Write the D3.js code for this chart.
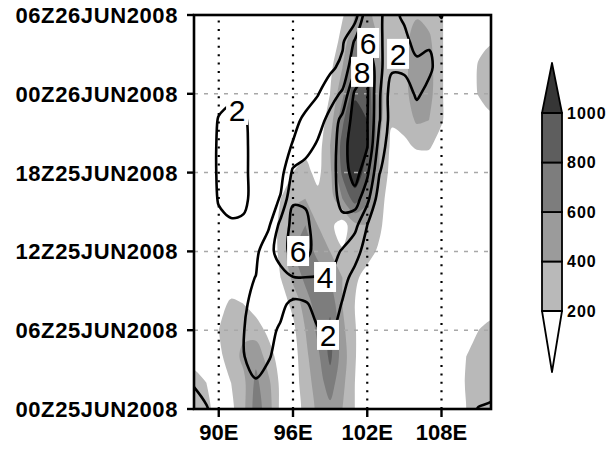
<!DOCTYPE html>
<html>
<head>
<meta charset="utf-8">
<script src="https://cdn.jsdelivr.net/npm/d3@7/dist/d3.min.js"></script>
<style>
  body { margin: 0; background: #fff; }
  text { font-family: "Liberation Sans", Arial, Helvetica, sans-serif; }
</style>
</head>
<body>
<svg id="chart" width="612" height="450"></svg>
<script>
// Grid coordinates of the two fields (longitude in degrees E, hours after 00Z25JUN2008)
const lons  = [87,88,89,90,91,92,93,94,95,96,97,98,99,100,101,102,103,104,105,106,107,108,109,110,111,112,113];
const hours = [-2,0,2,4,6,8,10,12,14,16,18,20,22,24,26,28,30,32];

// Shaded field (rows follow `hours`, columns follow `lons`)
const shadeField = [
  [350,330,240,100,150,350,700,500,150,100,250,450,500,350,180,0,0,0,0,0,0,0,50,220,300,320,330],
  [350,320,260,100,150,350,700,500,150,100,250,450,550,400,200,0,0,0,0,0,0,0,50,200,300,320,330],
  [300,280,200,100,200,350,650,450,150,100,300,500,700,450,200,0,0,0,0,0,0,0,50,220,300,320,320],
  [150,120,80,150,300,450,550,300,100,100,350,550,850,500,220,0,0,0,0,0,0,0,30,200,280,300,300],
  [50,50,50,200,350,350,300,150,100,150,400,650,850,450,220,0,0,0,0,0,0,0,0,120,200,250,250],
  [0,0,30,100,250,200,100,50,100,250,500,700,750,400,200,0,0,0,0,0,0,0,0,50,100,120,120],
  [0,0,0,0,0,0,0,50,200,450,650,700,600,400,250,100,0,0,0,0,0,0,0,0,0,0,0],
  [0,0,0,0,0,0,0,50,250,600,700,550,400,220,300,300,150,0,0,0,0,0,0,0,0,0,0],
  [0,0,0,0,0,0,0,50,250,500,600,400,250,100,350,400,250,0,0,0,0,0,0,0,0,0,0],
  [0,0,0,0,0,0,0,0,200,350,400,250,300,600,900,650,300,50,0,0,0,0,0,0,0,0,0],
  [0,0,0,0,0,0,0,0,100,200,250,150,350,850,1150,900,400,100,0,0,0,0,0,0,0,0,0],
  [0,0,0,0,0,0,0,0,0,100,150,100,400,900,1250,1000,400,150,150,230,230,80,0,0,0,0,0],
  [0,0,0,0,0,0,0,0,0,0,0,50,300,750,1150,1000,450,220,280,430,400,230,0,0,0,150,150],
  [0,0,0,0,0,0,0,0,0,0,0,50,200,550,950,950,450,280,350,500,470,230,0,0,220,300,300],
  [0,0,0,0,0,0,0,0,0,0,0,0,150,400,820,850,420,300,350,520,480,230,0,0,230,310,300],
  [0,0,0,0,0,0,0,0,0,0,0,0,50,280,600,650,380,300,350,500,440,230,0,0,120,180,180],
  [0,0,0,0,0,0,0,0,0,0,0,0,0,180,400,450,320,300,320,380,330,230,0,0,0,0,0],
  [0,0,0,0,0,0,0,0,0,0,0,0,0,180,400,450,320,300,320,380,330,230,0,0,0,0,0]
];

// Line-contoured field (same grid)
const lineField = [
  [3.0,2.8,2.4,1.6,1.2,1.2,1.3,1.3,1.2,1.2,1.2,1.2,1.2,1.1,1.0,1.0,1.0,1.0,1.0,1.0,1.0,1.1,1.4,2.2,2.5,2.7,2.8],
  [2.8,2.5,2.1,1.4,1.2,1.3,1.5,1.4,1.3,1.3,1.3,1.3,1.3,1.2,1.1,1.0,1.0,1.0,1.0,1.0,1.0,1.1,1.3,1.7,2.05,2.15,2.4],
  [2.2,1.9,1.5,1.2,1.2,1.5,1.9,1.6,1.4,1.3,1.3,1.4,1.4,1.2,1.0,1.0,1.0,1.0,1.0,1.0,1.0,1.0,1.1,1.3,1.45,1.6,1.8],
  [1.6,1.4,1.2,1.1,1.3,1.95,2.5,2.1,1.6,1.4,1.4,1.6,1.7,1.4,1.1,1.0,1.0,1.0,1.0,1.0,1.0,1.0,1.0,1.1,1.2,1.3,1.4],
  [1.3,1.2,1.1,1.1,1.3,1.95,2.7,2.4,1.8,1.5,1.6,1.9,2.2,1.6,1.2,1.0,1.0,1.0,1.0,1.0,1.0,1.0,1.0,1.0,1.0,1.1,1.1],
  [1.2,1.1,1.0,1.0,1.2,1.6,2.8,3.0,2.4,1.6,1.8,2.6,2.9,1.9,1.3,1.0,1.0,1.0,1.0,1.0,1.0,1.0,1.0,1.0,1.0,1.0,1.0],
  [1.1,1.0,1.0,1.0,1.1,1.5,2.05,2.9,3.5,3.9,3.95,3.95,3.8,2.5,1.5,1.1,1.0,1.0,1.0,1.0,1.0,1.0,1.0,1.0,1.0,1.0,1.0],
  [1.0,1.0,1.0,1.0,1.2,1.0,1.5,3.5,4.6,7.0,6.9,4.8,4.8,3.8,2.6,1.3,1.0,1.0,1.0,1.0,1.0,1.0,1.0,1.0,1.0,1.0,1.0],
  [1.0,1.0,1.1,1.7,1.85,1.75,0.8,1.6,4.6,6.6,6.5,5.0,5.0,5.6,4.6,2.0,0.8,0.8,0.9,1.0,1.0,1.0,1.0,1.0,1.0,1.0,1.0],
  [1.0,1.0,1.2,2.1,2.4,2.35,1.4,0.8,2.2,5.8,5.7,5.0,5.4,6.4,7.0,4.6,0.8,0.7,0.8,0.9,1.0,1.0,1.0,1.0,1.0,1.0,1.0],
  [1.0,1.0,1.2,2.2,2.6,2.4,1.3,0.7,1.2,4.4,4.8,4.9,5.3,6.8,9.0,6.4,2.05,0.6,0.7,0.9,1.0,1.0,1.0,1.0,1.0,1.0,1.0],
  [1.0,1.0,1.2,2.2,2.6,2.4,1.3,0.8,1.0,2.2,3.3,4.3,5.0,7.0,9.5,8.1,3.0,0.8,0.8,1.0,1.0,1.0,1.0,1.0,1.0,1.0,1.0],
  [0.9,0.9,1.1,2.1,2.4,2.3,1.2,0.8,0.9,1.3,2.5,3.2,4.6,6.6,8.8,8.1,4.1,1.0,1.2,1.5,1.2,1.0,1.0,1.0,1.0,1.0,1.0],
  [0.9,0.9,1.0,1.5,1.7,1.6,1.0,0.8,0.8,0.8,0.9,1.9,3.2,4.3,8.4,8.2,4.2,0.9,1.5,2.15,1.7,1.0,1.0,1.0,1.0,1.0,1.0],
  [0.9,0.9,1.0,1.1,1.1,1.0,1.0,0.9,0.9,0.9,0.9,1.0,1.6,2.5,5.6,7.9,4.5,2.3,2.2,2.3,2.2,1.5,1.0,1.0,1.0,1.0,1.0],
  [0.9,0.9,0.9,0.9,0.9,0.9,0.9,0.9,0.9,0.9,0.9,0.9,0.8,1.7,4.2,6.1,4.4,2.6,2.3,1.6,1.9,1.6,1.0,1.0,1.0,1.0,1.0],
  [0.9,0.9,0.9,0.9,0.9,0.9,0.9,0.9,0.9,0.9,0.9,0.9,0.8,0.8,1.0,5.5,4.5,2.3,1.8,1.5,1.7,2.05,1.2,1.0,1.0,1.0,1.0],
  [0.9,0.9,0.9,0.9,0.9,0.9,0.9,0.9,0.9,0.9,0.9,0.9,0.8,0.8,0.8,4.0,5.0,3.0,2.0,1.5,1.6,1.8,1.2,1.0,1.0,1.0,1.0]
];

const shadeLevels = [200, 400, 600, 800, 1000];
const shadeColors = ["#b9b9b9", "#9b9b9b", "#7d7d7d", "#5e5e5e", "#363636"];
const lineLevels  = [2, 4, 6, 8];

// Inline contour labels, positioned in data coordinates
const contourLabels = [
  { level: 6, lon: 102.07, hour: 27.87 },
  { level: 8, lon: 101.58, hour: 25.67 },
  { level: 2, lon: 104.49, hour: 27.04 },
  { level: 2, lon: 91.48,  hour: 22.77 },
  { level: 6, lon: 96.41,  hour: 12.03 },
  { level: 4, lon: 98.59,  hour: 10.05 },
  { level: 2, lon: 98.83,  hour: 5.64 }
];

const timeTicks      = [0, 6, 12, 18, 24, 30];
const timeTickLabels = ["00Z25JUN2008", "06Z25JUN2008", "12Z25JUN2008", "18Z25JUN2008", "00Z26JUN2008", "06Z26JUN2008"];
const lonTicks       = [90, 96, 102, 108];
const lonTickLabels  = ["90E", "96E", "102E", "108E"];
const colorbarLabels = ["200", "400", "600", "800", "1000"];

// ---- layout ----
const plot = { left: 194, top: 15, right: 491, bottom: 409 };
const x = d3.scaleLinear().domain([88, 112]).range([plot.left, plot.right]);
const y = d3.scaleLinear().domain([0, 30]).range([plot.bottom, plot.top]);

const svg = d3.select("#chart");
svg.append("rect").attr("width", 612).attr("height", 450).attr("fill", "#fff");

svg.append("defs").append("clipPath").attr("id", "plotClip")
  .append("rect")
  .attr("x", plot.left).attr("y", plot.top)
  .attr("width", plot.right - plot.left).attr("height", plot.bottom - plot.top);

const nx = lons.length, ny = hours.length;
const dLon = lons[1] - lons[0], dHour = hours[1] - hours[0];
// d3.contours places sample i at grid coordinate i + 0.5
const gridLon  = gx => lons[0] + (gx - 0.5) * dLon;
const gridHour = gy => hours[0] + (gy - 0.5) * dHour;

const ringLine = d3.line().curve(d3.curveCatmullRomClosed.alpha(0.5));
function ringPath(ring) {
  const pts = ring.slice(0, -1).map(([gx, gy]) => [x(gridLon(gx)), y(gridHour(gy))]);
  return ringLine(pts);
}
function multiPolygonPath(coords) {
  return coords.map(poly => poly.map(ringPath).join("")).join("");
}

const contourGen = d3.contours().size([nx, ny]);

const body = svg.append("g").attr("clip-path", "url(#plotClip)");

// filled contours
const shaded = contourGen.thresholds(shadeLevels)(shadeField.flat());
body.append("g").selectAll("path")
  .data(shaded)
  .join("path")
  .attr("d", d => multiPolygonPath(d.coordinates))
  .attr("fill", (d, i) => shadeColors[i])
  .attr("fill-rule", "evenodd")
  .attr("stroke", "none");

// grid lines
body.append("g").selectAll("line")
  .data(timeTicks.slice(1, -1))
  .join("line")
  .attr("x1", plot.left).attr("x2", plot.right)
  .attr("y1", d => y(d)).attr("y2", d => y(d))
  .attr("stroke", "#a8a8a8").attr("stroke-width", 1.5)
  .attr("stroke-dasharray", "4,6");

body.append("g").selectAll("line")
  .data(lonTicks)
  .join("line")
  .attr("x1", d => x(d)).attr("x2", d => x(d))
  .attr("y1", plot.bottom).attr("y2", plot.top)
  .attr("stroke", "#000").attr("stroke-width", 2.2)
  .attr("stroke-dasharray", "2,6.4");

// line contours
const lined = contourGen.thresholds(lineLevels)(lineField.flat());
body.append("g").selectAll("path")
  .data(lined)
  .join("path")
  .attr("d", d => multiPolygonPath(d.coordinates))
  .attr("fill", "none")
  .attr("stroke", "#000")
  .attr("stroke-width", 2.6)
  .attr("stroke-linejoin", "round");

// contour labels
const lab = body.append("g").selectAll("g")
  .data(contourLabels)
  .join("g")
  .attr("transform", d => `translate(${x(d.lon)},${y(d.hour)})`);
lab.append("rect")
  .attr("x", -11).attr("y", -15).attr("width", 22).attr("height", 30)
  .attr("fill", "#fff");
lab.append("text")
  .attr("text-anchor", "middle")
  .attr("dy", "0.36em")
  .attr("font-size", 30)
  .text(d => d.level);

// frame
svg.append("rect")
  .attr("x", plot.left).attr("y", plot.top)
  .attr("width", plot.right - plot.left).attr("height", plot.bottom - plot.top)
  .attr("fill", "none").attr("stroke", "#000").attr("stroke-width", 2.6);

// y axis
const yAxis = svg.append("g");
yAxis.selectAll("line")
  .data(timeTicks)
  .join("line")
  .attr("x1", plot.left - 7).attr("x2", plot.left)
  .attr("y1", d => y(d)).attr("y2", d => y(d))
  .attr("stroke", "#000").attr("stroke-width", 2.4);
yAxis.selectAll("text")
  .data(timeTicks)
  .join("text")
  .attr("x", 178).attr("y", d => y(d))
  .attr("dy", "0.36em")
  .attr("text-anchor", "end")
  .attr("font-size", 22).attr("font-weight", "bold")
  .attr("letter-spacing", 0.6)
  .text((d, i) => timeTickLabels[i]);

// x axis
const xAxis = svg.append("g");
xAxis.selectAll("line")
  .data(lonTicks)
  .join("line")
  .attr("x1", d => x(d)).attr("x2", d => x(d))
  .attr("y1", plot.bottom).attr("y2", plot.bottom + 8)
  .attr("stroke", "#000").attr("stroke-width", 2.4);
xAxis.selectAll("text")
  .data(lonTicks)
  .join("text")
  .attr("x", d => x(d)).attr("y", 440)
  .attr("text-anchor", "middle")
  .attr("font-size", 22).attr("font-weight", "bold")
  .text((d, i) => lonTickLabels[i]);

// colour bar
const cb = { x: 542, w: 20 };
const cbY = d3.scaleLinear().domain([200, 1000]).range([311, 113]);
const cbg = svg.append("g");
const boxes = d3.pairs(shadeLevels);
cbg.selectAll("rect")
  .data(boxes)
  .join("rect")
  .attr("x", cb.x).attr("width", cb.w)
  .attr("y", d => cbY(d[1])).attr("height", d => cbY(d[0]) - cbY(d[1]))
  .attr("fill", (d, i) => shadeColors[i])
  .attr("stroke", "#000").attr("stroke-width", 1.8);
// end triangles
const lowTip = cbY(200) + 61, highTip = cbY(1000) - 50;
cbg.append("path")
  .attr("d", `M${cb.x},${cbY(200)}L${cb.x + cb.w},${cbY(200)}L${cb.x + cb.w / 2},${lowTip}Z`)
  .attr("fill", "#fff").attr("stroke", "#000").attr("stroke-width", 1.8).attr("stroke-linejoin", "round");
cbg.append("path")
  .attr("d", `M${cb.x},${cbY(1000)}L${cb.x + cb.w},${cbY(1000)}L${cb.x + cb.w / 2},${highTip}Z`)
  .attr("fill", shadeColors[4]).attr("stroke", "#000").attr("stroke-width", 1.8).attr("stroke-linejoin", "round");
cbg.selectAll("text")
  .data(shadeLevels)
  .join("text")
  .attr("x", 567).attr("y", d => cbY(d))
  .attr("dy", "0.36em")
  .attr("font-size", 16).attr("font-weight", "bold")
  .attr("letter-spacing", 1)
  .text((d, i) => colorbarLabels[i]);
</script>
</body>
</html>
